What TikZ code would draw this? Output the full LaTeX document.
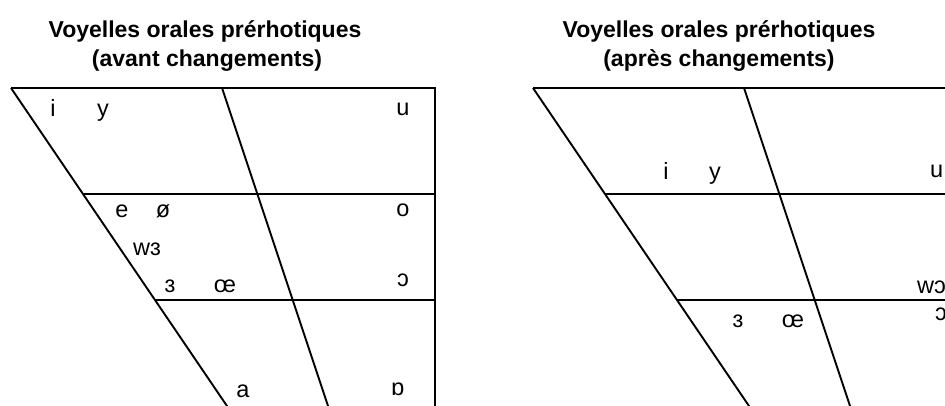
\documentclass[tikz,border=0pt]{standalone}
\usepackage{fontspec}
\setmainfont{Liberation Sans}
\begin{document}
\begin{tikzpicture}[x=1pt,y=-1pt,
  chart/.style={line width=1.9pt,black},
  ttl/.style={font=\fontsize{23}{27}\selectfont\bfseries,anchor=base,inner sep=0pt},
  vw/.style={font=\fontsize{23.5}{27}\selectfont,anchor=base,inner sep=0pt},
  vwl/.style={font=\fontsize{23.5}{27}\selectfont,anchor=base west,inner sep=0pt}]
\useasboundingbox (0,0) rectangle (945,406);
\clip (0,0) rectangle (945,406);
% titles
\node[ttl] (t1a) at (205,38) {Voyelles orales prérhotiques};
\node[ttl] (t1b) at (207,67) {(avant changements)};
\node[ttl] (t2a) at (719,38) {Voyelles orales prérhotiques};
\node[ttl] (t2b) at (719,67) {(après changements)};
% left chart
\coordinate (LA) at (11,88);
\coordinate (LB) at (222,88);
\coordinate (LC) at (435,88);
\coordinate (LD) at (236.5,420);
\coordinate (LE) at (332.7,420);
\coordinate (LF) at (435,420);
\coordinate (LG) at (83,194);
\coordinate (LH) at (435,194);
\coordinate (LI) at (155,300);
\coordinate (LJ) at (435,300);
\draw[chart] (LA) -- (LC) -- (LF);
\draw[chart] (LA) -- (LD);
\draw[chart] (LB) -- (LE);
\draw[chart] (LG) -- (LH);
\draw[chart] (LI) -- (LJ);
\node[vw] (li) at (53,117) {i};
\node[vw] (ly) at (103,117) {y};
\node[vw] (lu) at (403,116) {u};
\node[vw] (le) at (122,218) {e};
\node[vw] (lo2) at (163,218) {ø};
\node[vw] (lo) at (403,217) {o};
\node[vw] (lw) at (147,255) {wɜ};
\node[vw] (l3) at (170,292) {ɜ};
\node[vw] (loe) at (225,292) {œ};
\node[vw] (lc) at (403,286) {ɔ};
\node[vw] (la) at (243,397) {a};
\node[vw] (lp) at (398,395) {ɒ};
% right chart
\coordinate (RA) at (533,88);
\coordinate (RB) at (744,88);
\coordinate (RC) at (957,88);
\coordinate (RD) at (758.5,420);
\coordinate (RE) at (854.7,420);
\coordinate (RG) at (605,194);
\coordinate (RH) at (957,194);
\coordinate (RI) at (677,300);
\coordinate (RJ) at (957,300);
\draw[chart] (RA) -- (RC);
\draw[chart] (RA) -- (RD);
\draw[chart] (RB) -- (RE);
\draw[chart] (RG) -- (RH);
\draw[chart] (RI) -- (RJ);
\node[vw] (ri) at (666,180) {i};
\node[vw] (ry) at (715,180) {y};
\node[vwl] (ru) at (930,178) {u};
\node[vwl] (rw) at (917,293) {wɔ};
\node[vwl] (rc) at (935,320) {ɔ};
\node[vw] (r3) at (738,327) {ɜ};
\node[vw] (roe) at (793,327) {œ};
\end{tikzpicture}
\end{document}
